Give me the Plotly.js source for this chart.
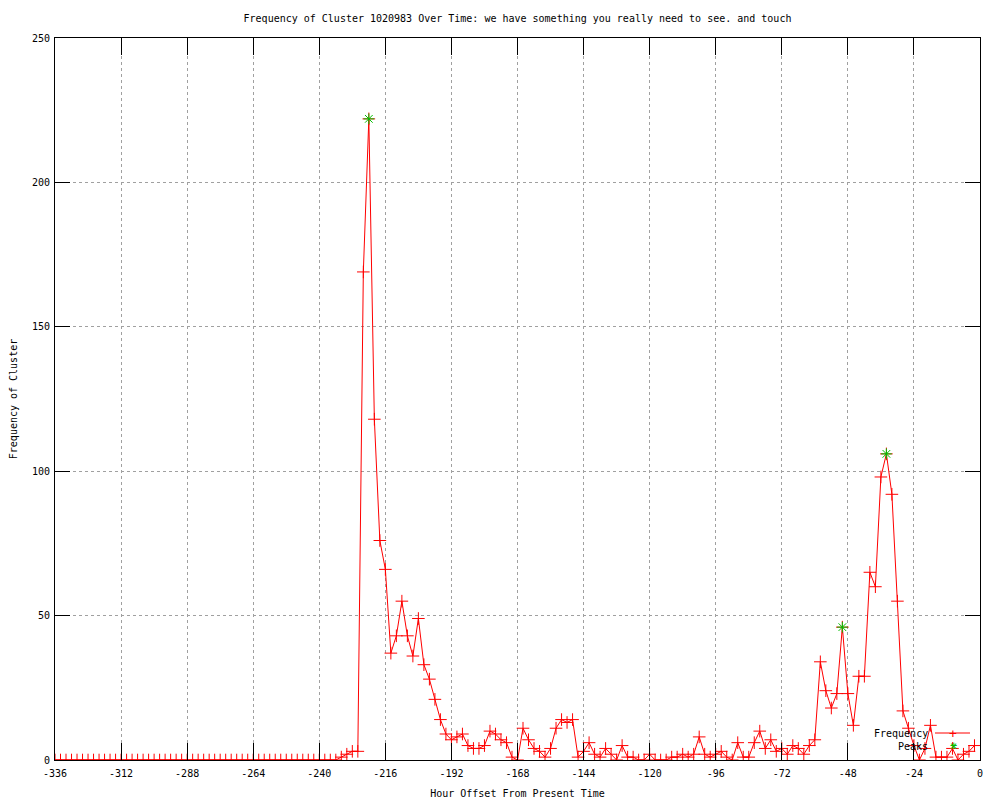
<!DOCTYPE html>
<html><head><meta charset="utf-8">
<script src="https://cdn.plot.ly/plotly-3.0.1.min.js"></script>
<style>html,body{margin:0;padding:0;background:#fff}</style>
</head><body>
<div id="chart" style="width:1000px;height:800px"></div>
<script>
// Hour offsets (x) of each observation
const hours = [
  -336,-334,-332,-330,-328,-326,-324,-322,-320,-318,-316,-314,
  -312,-310,-308,-306,-304,-302,-300,-298,-296,-294,-292,-290,
  -288,-286,-284,-282,-280,-278,-276,-274,-272,-270,-268,-266,
  -264,-262,-260,-258,-256,-254,-252,-250,-248,-246,-244,-242,
  -240,-238,-236,-234,-232,-230,-228,-226,-224,-222,-220,-218,
  -216,-214,-212,-210,-208,-206,-204,-202,-200,-198,-196,-194,
  -192,-190,-188,-186,-184,-182,-180,-178,-176,-174,-172,-170,
  -168,-166,-164,-162,-160,-158,-156,-154,-152,-150,-148,-146,
  -144,-142,-140,-138,-136,-134,-132,-130,-128,-126,-124,-122,
  -120,-118,-116,-114,-112,-110,-108,-106,-104,-102,-100,-98,
  -96,-94,-92,-90,-88,-86,-84,-82,-80,-78,-76,-74,
  -72,-70,-68,-66,-64,-62,-60,-58,-56,-54,-52,-50,
  -48,-46,-44,-42,-40,-38,-36,-34,-32,-30,-28,-26,
  -24,-22,-20,-18,-16,-14,-12,-10,-8,-6,-4,-2
];
// Frequency of cluster at each hour offset
const frequency = [
  0,0,0,0,0,0,0,0,0,0,0,0,
  0,0,0,0,0,0,0,0,0,0,0,0,
  0,0,0,0,0,0,0,0,0,0,0,0,
  0,0,0,0,0,0,0,0,0,0,0,0,
  0,0,0,0,1,2,3,3,169,222,118,76,
  66,37,43,55,43,36,49,33,28,21,14,9,
  7,8,9,5,4,4,5,10,9,7,6,1,
  0,11,7,4,3,1,4,11,14,13,14,1,
  3,6,2,1,4,2,0,5,1,1,0,0,
  2,0,0,0,1,1,2,1,2,8,2,1,
  2,3,1,0,6,1,1,6,10,4,7,3,
  4,2,5,4,2,5,7,34,24,18,23,46,
  23,12,29,29,65,60,98,106,92,55,17,11,
  5,0,4,12,1,1,1,4,0,2,3,5
];
// Detected peaks
const peakHours = [-222, -50, -34];
const peakValues = [222, 46, 106];

// Tick labels
const xTicks = [-336,-312,-288,-264,-240,-216,-192,-168,-144,-120,-96,-72,-48,-24,0];
const yTicks = [0,50,100,150,200,250];

const seriesNames = ['Frequency', 'Peaks'];
const titleText = 'Frequency of Cluster 1020983 Over Time: we have something you really need to see. and touch';
const xTitle = 'Hour Offset From Present Time';
const yTitle = 'Frequency of Cluster';

const FONT = 'DejaVu Sans Mono, Liberation Mono, monospace';
const RED = '#ff0000';
const GREEN = '#00c000';

const traces = [
  {
    x: hours, y: frequency, name: seriesNames[0], type: 'scatter', mode: 'lines+markers',
    line: {color: RED, width: 1},
    marker: {symbol: 'cross-thin-open', size: 9, color: RED, line: {color: RED, width: 1}},
    showlegend: false, cliponaxis: true
  },
  {
    x: peakHours, y: peakValues, name: seriesNames[1], type: 'scatter', mode: 'markers',
    marker: {symbol: 'asterisk-open', size: 9, color: GREEN, line: {color: GREEN, width: 1}},
    showlegend: false
  }
];

const axisCommon = {
  showline: true, linecolor: '#000', linewidth: 1, mirror: 'ticks',
  ticks: 'inside', tickcolor: '#000', tickwidth: 1,
  showgrid: true, gridcolor: '#a0a0a0', griddash: 'dot', gridwidth: 1,
  zeroline: false, tickfont: {family: FONT, size: 10, color: '#000'},
  automargin: false, fixedrange: true
};

const layout = {
  width: 1000, height: 800,
  paper_bgcolor: '#fff', plot_bgcolor: '#fff',
  margin: {l: 55, r: 20, t: 38, b: 40},
  font: {family: FONT, size: 10, color: '#000'},
  title: {text: titleText, font: {family: FONT, size: 10, color: '#000'},
          x: 0.5175, xref: 'container', xanchor: 'center', y: 1 - 18/800, yref: 'container', yanchor: 'middle'},
  xaxis: Object.assign({}, axisCommon, {
    range: [-336, 0], tickmode: 'array', tickvals: xTicks, ticktext: xTicks.map(String), ticklen: 17,
    ticklabelstandoff: 4,
    title: {text: xTitle, font: {family: FONT, size: 10, color: '#000'}, standoff: 11}
  }),
  yaxis: Object.assign({}, axisCommon, {
    range: [0, 250], tickmode: 'array', tickvals: yTicks, ticktext: yTicks.map(String), ticklen: 15,
    ticklabelstandoff: 2,
    title: {text: yTitle, font: {family: FONT, size: 10, color: '#000'}, standoff: 12}
  }),
  showlegend: false,
  shapes: [
    {type: 'line', xref: 'paper', yref: 'paper', x0: (935-55)/925, x1: (970-55)/925,
     y0: (760-733)/722, y1: (760-733)/722, line: {color: RED, width: 1}}
  ],
  annotations: [
    {text: seriesNames[0], xref: 'paper', yref: 'paper', x: (930-55)/925, y: (760-733)/722,
     xanchor: 'right', yanchor: 'middle', showarrow: false, font: {family: FONT, size: 10, color: '#000'}},
    {text: seriesNames[1], xref: 'paper', yref: 'paper', x: (930-55)/925, y: (760-746)/722,
     xanchor: 'right', yanchor: 'middle', showarrow: false, font: {family: FONT, size: 10, color: '#000'}},
    {text: '+', xref: 'paper', yref: 'paper', x: (952.5-55)/925, y: (760-733)/722,
     xanchor: 'center', yanchor: 'middle', showarrow: false, font: {family: FONT, size: 13, color: RED}},
    {text: '+', xref: 'paper', yref: 'paper', x: (953-55)/925, y: (760-746)/722,
     xanchor: 'center', yanchor: 'middle', showarrow: false, font: {family: FONT, size: 12, color: GREEN}},
    {text: '×', xref: 'paper', yref: 'paper', x: (953-55)/925, y: (760-746)/722,
     xanchor: 'center', yanchor: 'middle', showarrow: false, font: {family: FONT, size: 12, color: GREEN}}
  ]
};

Plotly.newPlot('chart', traces, layout, {displayModeBar: false, staticPlot: true});
</script>
</body></html>
